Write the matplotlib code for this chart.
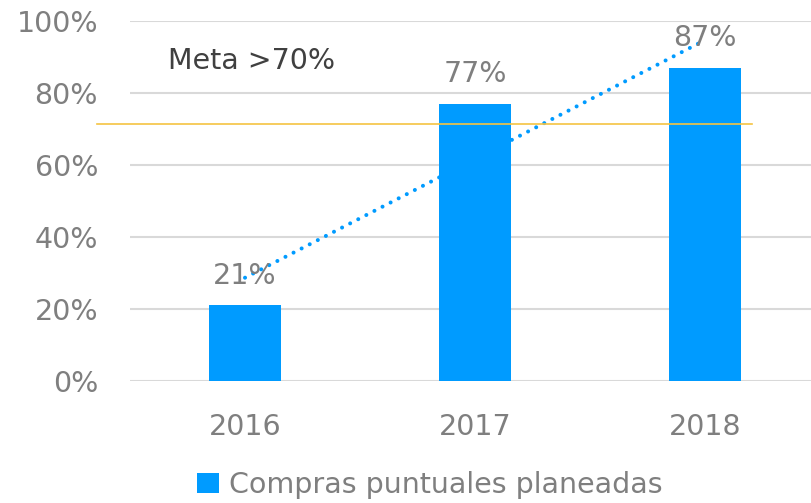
import matplotlib.pyplot as plt

years = ["2016", "2017", "2018"]
valores = [21, 77, 87]
tendencia = [28.7, 94.7]   # trend line read at 2016 and 2018
meta = 71.5
yticks = [0, 20, 40, 60, 80, 100]

plt.rcParams['font.family'] = ['DejaVu Sans']

azul = '#009BFF'
gris = '#7F7F7F'
fs = 20.5

fig = plt.figure(figsize=(8.11, 5.03), dpi=100)
ax = fig.add_axes([0.1603, 0.2425, 0.8508, 0.7157])

x = list(range(len(years)))
ax.plot([x[0], x[-1]], tendencia, linestyle=(0, (0.01, 2.25)), color=azul, lw=2.9,
        dash_capstyle='round', zorder=1)
ax.bar(x, valores, width=0.313, color=azul, zorder=2, label='Compras puntuales planeadas')
for xi, v in zip(x, valores):
    ax.text(xi, v + 8.3, f"{v}%", ha='center', va='center', fontsize=fs, color=gris, zorder=3)

ax.plot([-0.643, 2.204], [meta, meta], color='#F5C342', lw=1.2, clip_on=False, zorder=3)
ax.text(-0.335, 89, "Meta >70%", ha='left', va='center', fontsize=fs, color='#404040')

ax.set_xlim(-0.5, 2.5)
ax.set_ylim(0, 100)
ax.set_yticks(yticks)
ax.set_yticklabels([f"{t}%" for t in yticks])
ax.set_xticks(x)
ax.set_xticklabels(years)
ax.tick_params(length=0, labelsize=fs, labelcolor=gris)
ax.tick_params(axis='y', pad=23)
ax.tick_params(axis='x', pad=23)
ax.grid(axis='y', color='#D9D9D9', lw=1.5, zorder=0)
ax.set_axisbelow(True)
for s in ax.spines.values():
    s.set_visible(False)

fig.legend(loc='center', bbox_to_anchor=(0.530, 0.036), frameon=False, fontsize=fs,
           labelcolor=gris, handlelength=0.75, handleheight=0.75, handletextpad=0.35)

fig.savefig('out.png', dpi=100)
